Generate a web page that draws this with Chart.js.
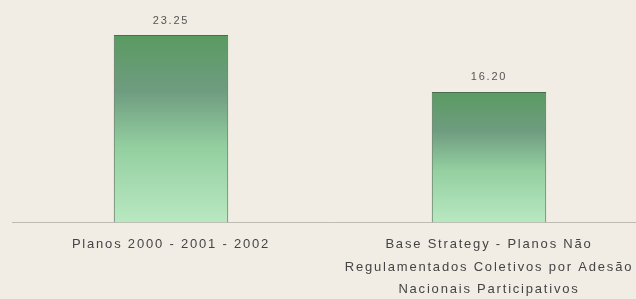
<!DOCTYPE html>
<html lang="en">
<head>
  <meta charset="UTF-8" />
  <title>Planos</title>
  <script src="https://cdn.jsdelivr.net/npm/chart.js"></script>
  <style>
    body {
      margin: 0;
      background-color: #f1ede4;
      overflow: hidden;
      font-family: 'Liberation Sans', Arial, sans-serif;
    }
    /* a bit wider and taller than the window so the plot lines up with the scan */
    .wrap {
      width: 648px;
      height: 312px;
    }
  </style>
</head>
<body>
  <div class="wrap"><canvas id="chart"></canvas></div>

  <script>
    const categories = [
      'Planos 2000 - 2001 - 2002',
      ['Base Strategy - Planos Não', 'Regulamentados Coletivos por Adesão', 'Nacionais Participativos']
    ];
    const values = [23.25, 16.20];

    // the scanned text is spaced out, so widen the letters a little
    const spacing = {
      id: 'spacing',
      beforeLayout(chart) { chart.ctx.letterSpacing = '1.8px'; },
      beforeDraw(chart) { chart.ctx.letterSpacing = '1.8px'; }
    };

    // value labels above each bar
    const valueLabels = {
      id: 'valueLabels',
      afterDatasetsDraw(chart) {
        const ctx = chart.ctx;
        const meta = chart.getDatasetMeta(0);
        ctx.save();
        ctx.font = '11px "Liberation Sans", Arial, sans-serif';
        ctx.fillStyle = '#555';
        ctx.textAlign = 'center';
        ctx.textBaseline = 'bottom';
        meta.data.forEach((bar, i) => {
          ctx.fillText(values[i].toFixed(2), bar.x, bar.y - 9);
        });
        ctx.restore();
      }
    };

    function barGradient(context) {
      const chart = context.chart;
      const area = chart.chartArea;
      if (!area) return '#7ab884';
      const top = chart.scales.y.getPixelForValue(values[context.dataIndex]);
      const g = chart.ctx.createLinearGradient(0, top, 0, area.bottom);
      g.addColorStop(0, '#5a9b62');
      g.addColorStop(0.3, '#6f9c80');
      g.addColorStop(0.6, '#94cfa0');
      g.addColorStop(1, '#b9e8c1');
      return g;
    }

    new Chart(document.getElementById('chart'), {
      type: 'bar',
      data: {
        labels: categories,
        datasets: [{
          data: values,
          backgroundColor: barGradient,
          borderColor: '#4b6b52',
          borderWidth: 1,
          barPercentage: 0.36,
          categoryPercentage: 1
        }]
      },
      options: {
        responsive: true,
        maintainAspectRatio: false,
        animation: false,
        layout: { padding: { left: 12, top: 0, right: 0, bottom: 0 } },
        plugins: {
          legend: { display: false },
          tooltip: { enabled: false }
        },
        scales: {
          x: {
            grid: { display: false, drawTicks: false },
            border: { display: true, color: '#bdbab2', width: 1 },
            ticks: {
              color: '#444',
              padding: 11,
              maxRotation: 0,
              autoSkip: false,
              font: { family: "'Liberation Sans', Arial, sans-serif", size: 13, lineHeight: 1.73 }
            }
          },
          y: {
            display: false,
            min: 0,
            max: 27.6
          }
        }
      },
      plugins: [spacing, valueLabels]
    });
  </script>
</body>
</html>
